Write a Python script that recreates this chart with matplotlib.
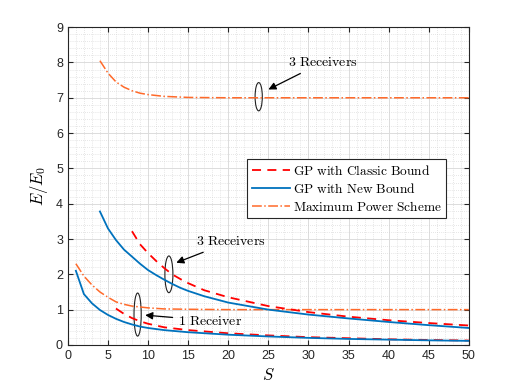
import matplotlib
matplotlib.use('Agg')
import matplotlib.pyplot as plt
from matplotlib.patches import Ellipse
from matplotlib.ticker import MultipleLocator

plt.rcParams['mathtext.fontset'] = 'cm'
plt.rcParams['font.family'] = 'Liberation Sans'

# 1 receiver
s_new1 = [1, 2, 3, 4, 5, 6, 7, 8, 9, 10, 12, 15, 20, 25, 30, 35, 40, 45, 50]
e_new1 = [2.1, 1.44, 1.18, 0.99, 0.85, 0.74, 0.65, 0.58, 0.52, 0.48, 0.42, 0.36, 0.29, 0.24, 0.2, 0.17, 0.15, 0.13, 0.115]
s_cls1 = [6, 7, 8, 9, 10, 12, 15, 20, 25, 30, 35, 40, 45, 50]
e_cls1 = [1.03, 0.88, 0.76, 0.67, 0.6, 0.5, 0.42, 0.33, 0.27, 0.22, 0.19, 0.16, 0.14, 0.125]
s_max1 = [1, 2, 3, 4, 5, 6, 7, 8, 10, 12, 15, 20, 30, 40, 50]
e_max1 = [2.3, 1.95, 1.7, 1.5, 1.35, 1.22, 1.15, 1.1, 1.05, 1.02, 1.01, 1.0, 1.0, 1.0, 1.0]

# 3 receivers
s_new3 = [4, 5, 6, 7, 8, 9, 10, 11, 12, 13, 14, 15, 17, 20, 25, 30, 35, 40, 45, 50]
e_new3 = [3.78, 3.3, 2.97, 2.7, 2.5, 2.3, 2.12, 1.98, 1.85, 1.73, 1.62, 1.53, 1.38, 1.2, 1.0, 0.86, 0.75, 0.65, 0.56, 0.48]
s_cls3 = [8, 9, 10, 11, 12, 13, 14, 15, 17, 20, 25, 30, 35, 40, 45, 50]
e_cls3 = [3.22, 2.85, 2.6, 2.38, 2.18, 2.0, 1.87, 1.75, 1.55, 1.35, 1.1, 0.93, 0.8, 0.7, 0.62, 0.55]
s_max3 = [4, 5, 6, 7, 8, 9, 10, 12, 15, 20, 30, 40, 50]
e_max3 = [8.05, 7.7, 7.45, 7.3, 7.2, 7.13, 7.09, 7.04, 7.01, 7.0, 7.0, 7.0, 7.0]

blue = '#0072BD'
red = '#FF0000'
orange = '#FF6A2A'

fig = plt.figure(figsize=(5.18, 3.88), dpi=100)
ax = fig.add_axes([0.131, 0.111, 0.774, 0.819])

ax.plot(s_cls1, e_cls1, '--', color=red, lw=1.3, dashes=(5, 3.5), label=r'$\mathrm{GP\ with\ Classic\ Bound}$')
ax.plot(s_new1, e_new1, '-', color=blue, lw=1.3, label=r'$\mathrm{GP\ with\ New\ Bound}$')
ax.plot(s_max1, e_max1, '-.', color=orange, lw=1.1, label=r'$\mathrm{Maximum\ Power\ Scheme}$')
ax.plot(s_cls3, e_cls3, '--', color=red, lw=1.3, dashes=(5, 3.5))
ax.plot(s_new3, e_new3, '-', color=blue, lw=1.3)
ax.plot(s_max3, e_max3, '-.', color=orange, lw=1.1)

ax.set_xlim(0, 50)
ax.set_ylim(0, 9)
ax.xaxis.set_major_locator(MultipleLocator(5))
ax.xaxis.set_minor_locator(MultipleLocator(1))
ax.yaxis.set_major_locator(MultipleLocator(1))
ax.yaxis.set_minor_locator(MultipleLocator(0.2))
ax.grid(which='major', color='#dcdcdc', lw=0.7)
ax.grid(which='minor', color='#cfcfcf', lw=0.5, linestyle=(0, (1, 2)))
ax.set_axisbelow(True)
ax.tick_params(which='both', direction='in', top=True, right=True, labelsize=9, colors='#262626')
ax.tick_params(which='minor', length=0)
ax.tick_params(which='major', length=3.5)
for sp in ax.spines.values():
    sp.set_color('#262626')
    sp.set_linewidth(0.8)

ax.set_xlabel(r'$S$', fontsize=12)
ax.set_ylabel(r'$E/E_0$', fontsize=12)

# ellipses and arrows
ax.add_patch(Ellipse((23.8, 7.03), 0.9, 0.8, fill=False, ec='#222222', lw=0.8))
ax.add_patch(Ellipse((12.6, 2.0), 1.0, 1.04, fill=False, ec='#222222', lw=0.8))
ax.add_patch(Ellipse((8.7, 0.86), 0.9, 1.22, fill=False, ec='#222222', lw=0.8))

arrow = dict(arrowstyle='-|>', color='black', lw=0.9, mutation_scale=11)
ax.annotate(r'$\mathrm{3\ Receivers}$', xy=(24.7, 7.2), xytext=(27.4, 8.0), fontsize=10,
            va='center', ha='left', arrowprops=arrow)
ax.annotate(r'$\mathrm{3\ Receivers}$', xy=(13.2, 2.3), xytext=(16.0, 2.93), fontsize=10,
            va='center', ha='left', arrowprops=arrow)
ax.annotate(r'$\mathrm{1\ Receiver}$', xy=(9.3, 0.85), xytext=(13.75, 0.69), fontsize=10,
            va='center', ha='left', arrowprops=arrow)

leg = ax.legend(loc='upper left', bbox_to_anchor=(0.447, 0.585), fontsize=9.6, fancybox=False,
                edgecolor='#262626', framealpha=1, handlelength=2.9, handletextpad=0.2,
                borderpad=0.35, labelspacing=0.3, borderaxespad=0)
leg.get_frame().set_linewidth(0.8)

fig.savefig('out.png', dpi=100)
